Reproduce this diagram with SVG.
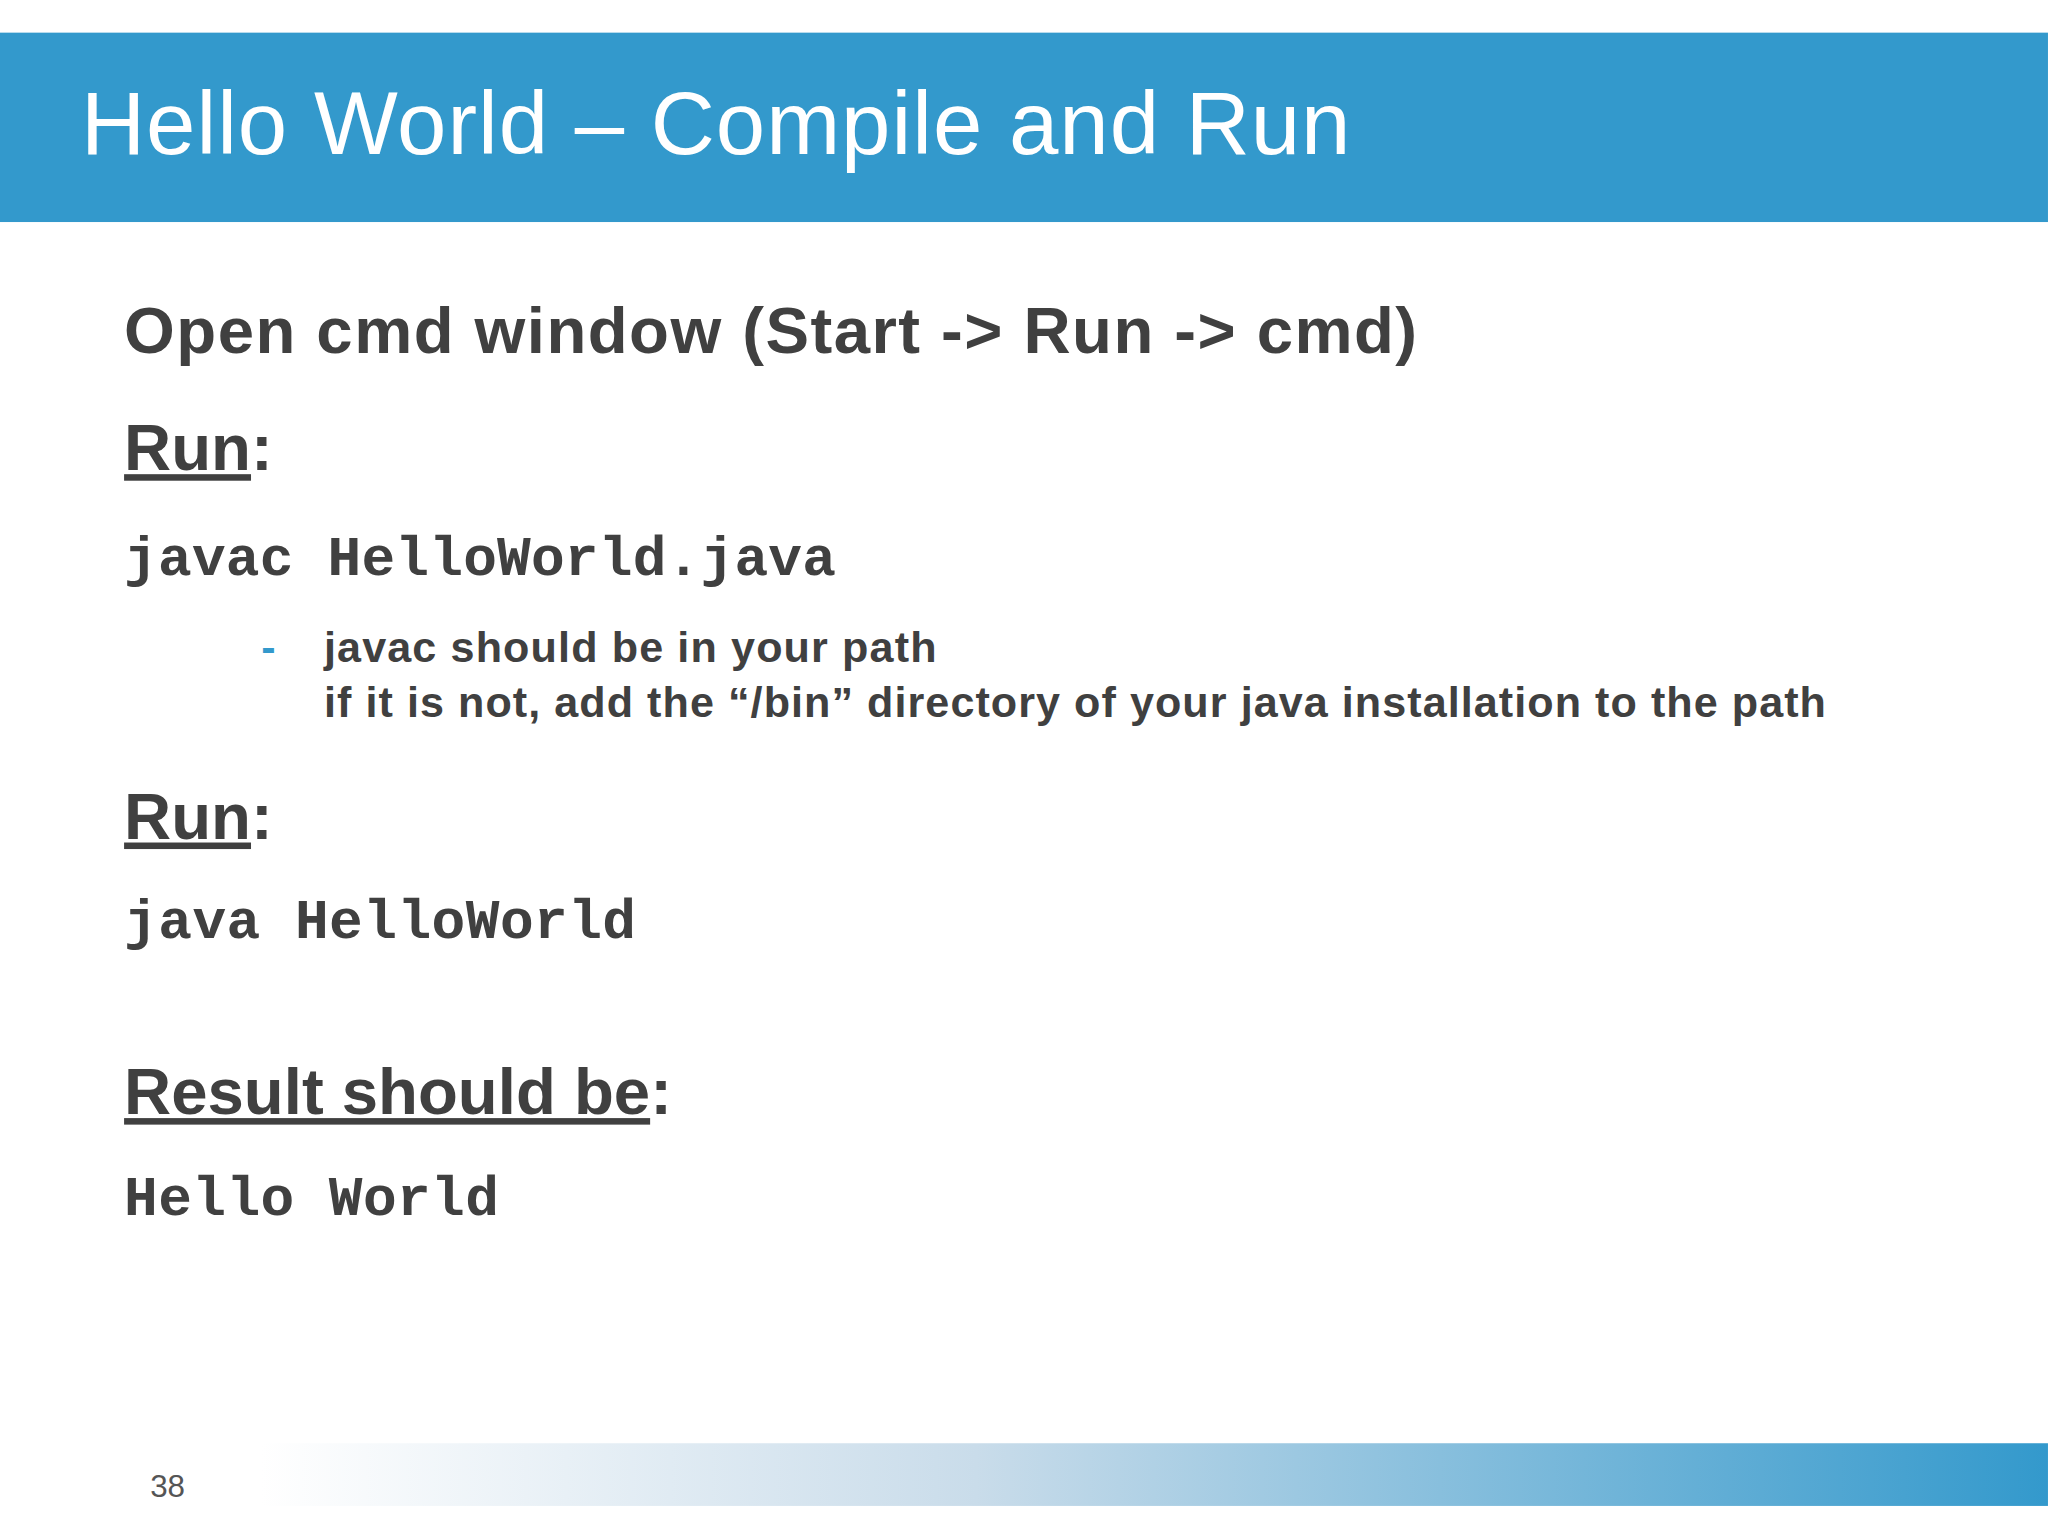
<svg xmlns="http://www.w3.org/2000/svg" width="2048" height="1536" viewBox="0 0 2048 1536">
<defs>
<linearGradient id="fg" x1="0" y1="0" x2="1" y2="0">
<stop offset="0" stop-color="#ffffff"/>
<stop offset="0.4" stop-color="#c9dcea"/>
<stop offset="1" stop-color="#3399cc"/>
</linearGradient>
<style>
.h{font-family:"Liberation Sans",Arial,sans-serif;font-weight:bold;fill:#404040;font-size:50px}
.m{font-family:"Liberation Mono","Courier New",monospace;font-weight:bold;fill:#404040;font-size:43px}
.s{font-family:"Liberation Sans",Arial,sans-serif;font-weight:bold;fill:#404040;font-size:33px}
.u{text-decoration:underline}
</style>
</defs>
<rect width="2048" height="1536" fill="#ffffff"/>
<g transform="scale(1.3061)">
<g id="header">
<rect x="0" y="25" width="1568" height="145" fill="#3399cc"/>
<text x="62" y="118" font-family="Liberation Sans,Arial,sans-serif" font-size="68" fill="#ffffff" textLength="972">Hello World – Compile and Run</text>
</g>
<g id="body">
<text class="h" x="95" y="270" textLength="990">Open cmd window (Start -&gt; Run -&gt; cmd)</text>
<text class="h" x="95" y="360"><tspan class="u">Run</tspan>:</text>
<text class="m" x="95" y="440" textLength="545">javac HelloWorld.java</text>
<text class="s" x="200" y="507" fill="#3399cc" style="fill:#3399cc">-</text>
<text class="s" x="248" y="507" textLength="469">javac should be in your path</text>
<text class="s" x="248" y="549" textLength="1150">if it is not, add the “/bin” directory of your java installation to the path</text>
<text class="h" x="95" y="642"><tspan class="u">Run</tspan>:</text>
<text class="m" x="95" y="718" textLength="392">java HelloWorld</text>
<text class="h" x="95" y="853"><tspan class="u">Result should be</tspan>:</text>
<text class="m" x="95" y="930" textLength="287">Hello World</text>
</g>
<g id="footer">
<rect x="200" y="1105" width="1368" height="48" fill="url(#fg)"/>
<text x="115" y="1146" font-family="Liberation Sans,Arial,sans-serif" font-size="24" fill="#555555">38</text>
</g>
</g>
</svg>
